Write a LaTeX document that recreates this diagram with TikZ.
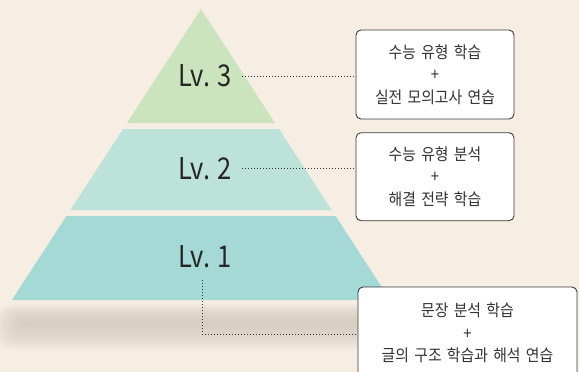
\documentclass[tikz,border=0pt]{standalone}
\usepackage{fontspec}
\setmainfont{Noto Sans CJK KR}
\newfontfamily\lvfont[FakeStretch=0.85]{Noto Sans CJK KR}
\newfontfamily\planfont[FakeStretch=0.9, WordSpace=1.6]{Noto Sans CJK KR}
\usetikzlibrary{positioning}

\definecolor{bgbeige}{HTML}{F6EEE3}
\definecolor{shadowgray}{HTML}{D2C8BB}
\definecolor{levelthree}{HTML}{CBE4BE}
\definecolor{leveltwo}{HTML}{BDE2DA}
\definecolor{levelone}{HTML}{A4D9D6}
\definecolor{boxline}{HTML}{3A3A3A}

\begin{document}
\begin{tikzpicture}[x=1pt, y=-1pt,
        level/.style={font=\lvfont\fontsize{30}{30}\selectfont, text=black!85, inner sep=0pt},
        plan/.style={draw=boxline, fill=white, rounded corners=5pt, line width=0.9pt, align=center,
            font=\planfont\fontsize{16.5}{22.5}\selectfont, text=black!80},
        link/.style={draw=black!80, line width=0.9pt, dash pattern=on 0.9pt off 2.1pt}]

        % background
        \fill[bgbeige] (0,0) rectangle (579,372);
        \clip (0,0) rectangle (579,372);

        % shadow under the pyramid
        \foreach \i in {0,...,13}
            \fill[shadowgray, opacity=0.09, rounded corners=20pt-\i*1.2pt]
                (-6+\i*2.2, 304+\i*1.3) rectangle (430, 350-\i*1.9);

        % levels
        \fill[levelthree] (201,9) -- (275.1,123) -- (126.9,123) -- cycle;
        \fill[leveltwo] (123,129) -- (279,129) -- (331.65,210) -- (70.35,210) -- cycle;
        \fill[levelone] (66.45,216) -- (335.55,216) -- (390.15,300) -- (11.85,300) -- cycle;

        \node (lv3) at (205,76) [level] {Lv. 3};
        \node (lv2) at (205,168.5) [level] {Lv. 2};
        \node (lv1) at (205,257) [level] {Lv. 1};

        % plans
        \node (plan3) at (435,74.5) [plan, minimum width=158pt, minimum height=89pt]
            {수능 유형 학습\\+\\실전 모의고사 연습};
        \node (plan2) at (435,176.7) [plan, minimum width=158pt, minimum height=88pt]
            {수능 유형 분석\\+\\해결 전략 학습};
        \node (plan1) at (467.5,333) [plan, minimum width=219pt, minimum height=92pt]
            {문장 분석 학습\\+\\글의 구조 학습과 해석 연습};

        % connections
        \draw[link] ([xshift=10pt]lv3.east) -- (plan3.west |- lv3.east);
        \draw[link] ([xshift=10pt]lv2.east) -- (plan2.west |- lv2.east);
        \draw[link] ([xshift=-3pt,yshift=-12pt]lv1.south) |- ([yshift=-1.5pt]plan1.west);
    \end{tikzpicture}
\end{document}
